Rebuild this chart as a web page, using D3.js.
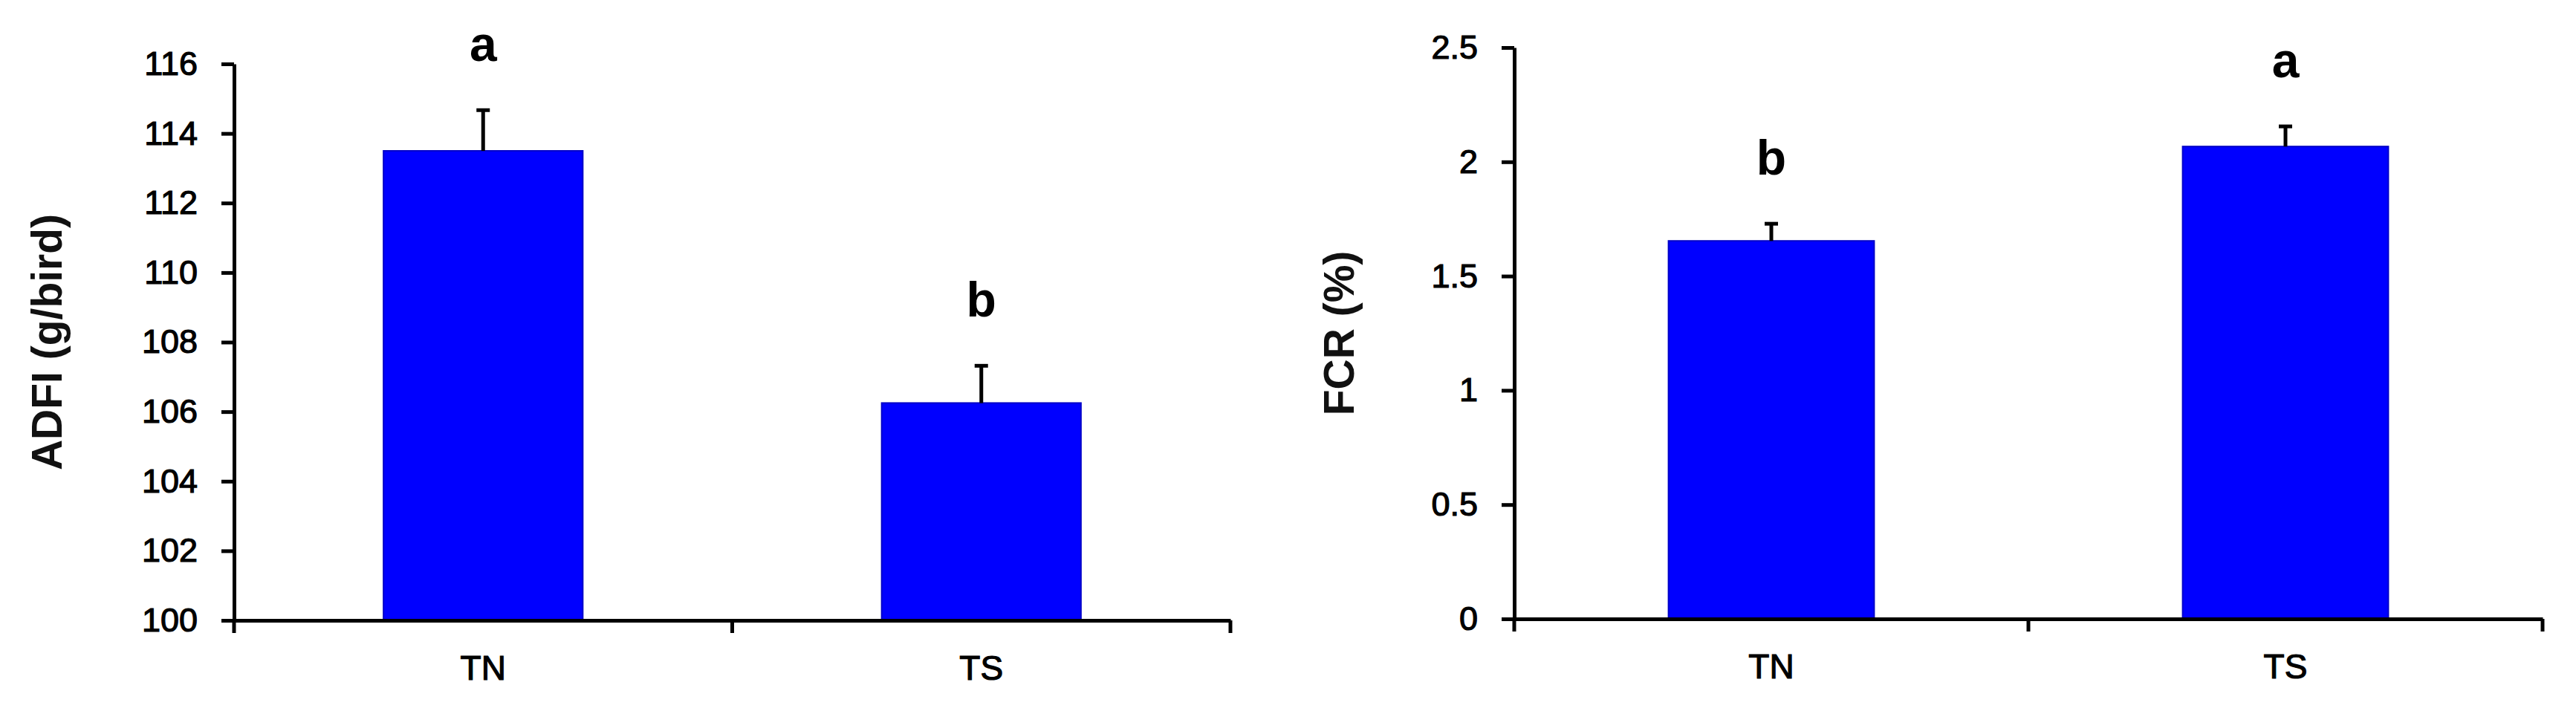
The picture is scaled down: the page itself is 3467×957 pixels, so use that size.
<!DOCTYPE html>
<html>
<head>
<meta charset="utf-8">
<script src="https://cdn.jsdelivr.net/npm/d3@7"></script>
<style>
  html, body { margin: 0; padding: 0; background: #fff; }
  svg { display: block; font-family: "Liberation Sans", Arial, sans-serif; }
</style>
</head>
<body>
<div id="chart"></div>
<script>
// Дані
const categories = ["TN", "TS"];

const adfiMeans = [113.5, 106.25];
const adfiErrors = [1.17, 1.07];
const adfiLetters = ["a", "b"];
const adfiTicks = [100, 102, 104, 106, 108, 110, 112, 114, 116];

const fcrMeans = [1.654, 2.067];
const fcrErrors = [0.075, 0.088];
const fcrLetters = ["b", "a"];
const fcrTicks = [0, 0.5, 1, 1.5, 2, 2.5];

const WIDTH = 3467;
const HEIGHT = 957;
const BAR_COLOR = "#0000ff";

const svg = d3.select("#chart")
    .append("svg")
    .attr("width", WIDTH)
    .attr("height", HEIGHT);

svg.append("rect")
    .attr("width", WIDTH)
    .attr("height", HEIGHT)
    .attr("fill", "#fff");

// Функція для малювання однієї панелі
function drawPanel(opts) {
    const x = d3.scaleBand()
        .domain(categories)
        .range([opts.left, opts.right])
        .padding(0);

    const y = d3.scaleLinear()
        .domain([opts.ticks[0], opts.ticks[opts.ticks.length - 1]])
        .range([opts.bottom, opts.top]);

    const g = svg.append("g");

    // Стовпчики
    const barW = x.bandwidth() * 0.4;
    g.selectAll(".bar")
        .data(categories)
        .enter()
        .append("rect")
        .attr("class", "bar")
        .attr("x", d => x(d) + (x.bandwidth() - barW) / 2)
        .attr("y", (d, i) => y(opts.means[i]))
        .attr("width", barW)
        .attr("height", (d, i) => y(opts.ticks[0]) - y(opts.means[i]))
        .attr("fill", BAR_COLOR)
        .attr("stroke", "#0000c8")
        .attr("stroke-width", 2);

    // Похибки
    const cx = d => x(d) + x.bandwidth() / 2;
    g.selectAll(".err")
        .data(categories)
        .enter()
        .append("line")
        .attr("x1", cx)
        .attr("x2", cx)
        .attr("y1", (d, i) => y(opts.means[i]))
        .attr("y2", (d, i) => y(opts.means[i] + opts.errors[i]))
        .attr("stroke", "#000")
        .attr("stroke-width", 5);

    g.selectAll(".cap")
        .data(categories)
        .enter()
        .append("line")
        .attr("x1", d => cx(d) - 9)
        .attr("x2", d => cx(d) + 9)
        .attr("y1", (d, i) => y(opts.means[i] + opts.errors[i]))
        .attr("y2", (d, i) => y(opts.means[i] + opts.errors[i]))
        .attr("stroke", "#000")
        .attr("stroke-width", 5);

    // Літери значущості
    g.selectAll(".letter")
        .data(categories)
        .enter()
        .append("text")
        .attr("x", cx)
        .attr("y", (d, i) => y(opts.means[i] + opts.errors[i]) - 66)
        .attr("text-anchor", "middle")
        .attr("font-size", 66)
        .attr("font-weight", "bold")
        .attr("fill", "#000")
        .text((d, i) => opts.letters[i]);

    // Вісь Y
    const yAxis = d3.axisLeft(y)
        .tickValues(opts.ticks)
        .tickFormat(d3.format("~g"))
        .tickSize(17)
        .tickPadding(32)
        .tickSizeOuter(0);

    const gy = g.append("g")
        .attr("transform", `translate(${opts.left},0)`)
        .call(yAxis);
    gy.select(".domain").attr("stroke-width", 5);
    gy.selectAll(".tick line").attr("stroke-width", 5);
    gy.selectAll(".tick text")
        .attr("font-size", 45)
        .attr("fill", "#000")
        .attr("stroke", "#000")
        .attr("stroke-width", 1.2);

    // Вісь X
    const xAxis = d3.axisBottom(x)
        .tickSize(0)
        .tickPadding(47)
        .tickSizeOuter(0);

    const gx = g.append("g")
        .attr("transform", `translate(0,${opts.bottom})`)
        .call(xAxis);
    gx.select(".domain").attr("stroke-width", 5);
    gx.selectAll(".tick text")
        .attr("font-size", 46)
        .attr("fill", "#000")
        .attr("stroke", "#000")
        .attr("stroke-width", 1.2);

    // Поділки між категоріями
    const bounds = categories.map(d => x(d)).concat([opts.right]);
    gx.selectAll(".bound")
        .data(bounds)
        .enter()
        .append("line")
        .attr("x1", d => d)
        .attr("x2", d => d)
        .attr("y1", 0)
        .attr("y2", 17)
        .attr("stroke", "#000")
        .attr("stroke-width", 5);

    // Назва осі Y
    g.append("text")
        .attr("transform", `translate(${opts.titleX},${(opts.top + opts.bottom) / 2}) rotate(-90)`)
        .attr("text-anchor", "middle")
        .attr("font-size", 57)
        .attr("font-weight", "bold")
        .attr("fill", "#111")
        .text(opts.title);
}

drawPanel({
    left: 315, right: 1656, top: 86, bottom: 835,
    ticks: adfiTicks, means: adfiMeans, errors: adfiErrors, letters: adfiLetters,
    title: "ADFI (g/bird)", titleX: 83
});

drawPanel({
    left: 2038, right: 3422, top: 64, bottom: 833,
    ticks: fcrTicks, means: fcrMeans, errors: fcrErrors, letters: fcrLetters,
    title: "FCR (%)", titleX: 1822
});
</script>
</body>
</html>
